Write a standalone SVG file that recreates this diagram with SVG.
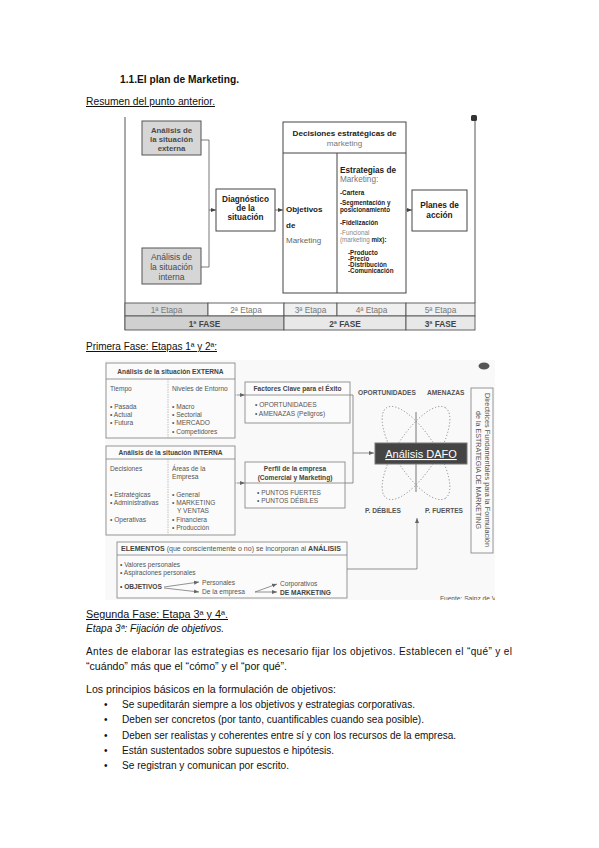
<svg xmlns="http://www.w3.org/2000/svg" width="599" height="848" viewBox="0 0 599 848">
<defs>
<style>
.doc{font-family:"Liberation Sans",Arial,sans-serif;font-size:10px;fill:#111}
.d1{font-family:"Liberation Sans",Arial,sans-serif;font-weight:bold;fill:#222}
.d1g{font-family:"Liberation Sans",Arial,sans-serif;fill:#777}
.d2{font-family:"Liberation Sans",Arial,sans-serif;font-size:6.6px;fill:#555}
.d2b{font-family:"Liberation Sans",Arial,sans-serif;font-size:6.6px;font-weight:bold;fill:#444}
.box{fill:#fff;stroke:#444;stroke-width:1}
.gbox{fill:#d6d6d6;stroke:#555;stroke-width:1}
.b2{fill:#fbfbfb;stroke:#8a8a8a;stroke-width:0.9}
.ln{fill:none;stroke:#555;stroke-width:0.8}
.ln2{fill:none;stroke:#777;stroke-width:0.8}
.dash{fill:none;stroke:#999;stroke-width:0.7;stroke-dasharray:1.5 1.5}
.dot{fill:none;stroke:#8a8a8a;stroke-width:0.9;stroke-dasharray:1.2 2}
</style>
<marker id="ah" viewBox="0 0 6 6" refX="6" refY="3" markerWidth="5" markerHeight="5" orient="auto" markerUnits="userSpaceOnUse"><path d="M0,0.6 L6,3 L0,5.4z" fill="#444"/></marker>
<marker id="ah2" viewBox="0 0 6 6" refX="6" refY="3" markerWidth="5" markerHeight="5" orient="auto" markerUnits="userSpaceOnUse"><path d="M0,0.6 L6,3 L0,5.4z" fill="#666"/></marker>
<clipPath id="clip2"><rect x="105" y="360" width="390" height="240"/></clipPath>
</defs>
<rect width="599" height="848" fill="#fff"/>

<!-- document text -->
<g id="doc-text" class="doc">
<text x="120" y="83" font-weight="bold" textLength="119" lengthAdjust="spacingAndGlyphs">1.1.El plan de Marketing.</text>
<text x="86" y="105" text-decoration="underline" textLength="129" lengthAdjust="spacingAndGlyphs">Resumen del punto anterior.</text>
<text x="86" y="350" text-decoration="underline" textLength="131" lengthAdjust="spacingAndGlyphs">Primera Fase: Etapas 1ª y 2ª:</text>
<text x="86" y="618" text-decoration="underline" textLength="142" lengthAdjust="spacingAndGlyphs">Segunda Fase: Etapa 3ª y 4ª.</text>
<text x="86" y="632" font-style="italic" textLength="138" lengthAdjust="spacingAndGlyphs">Etapa 3ª: Fijación de objetivos.</text>
<text x="86" y="655" textLength="426" lengthAdjust="spacing">Antes de elaborar las estrategias es necesario fijar los objetivos. Establecen el “qué” y el</text>
<text x="86" y="670" textLength="201" lengthAdjust="spacingAndGlyphs">“cuándo” más que el “cómo” y el “por qué”.</text>
<text x="86" y="693" textLength="250" lengthAdjust="spacingAndGlyphs">Los principios básicos en la formulación de objetivos:</text>
<text x="104" y="708">•</text>
<text x="122" y="708" textLength="293" lengthAdjust="spacingAndGlyphs">Se supeditarán siempre a los objetivos y estrategias corporativas.</text>
<text x="104" y="723">•</text>
<text x="122" y="723" textLength="302" lengthAdjust="spacingAndGlyphs">Deben ser concretos (por tanto, cuantificables cuando sea posible).</text>
<text x="104" y="739">•</text>
<text x="122" y="739" textLength="334" lengthAdjust="spacingAndGlyphs">Deben ser realistas y coherentes entre sí y con los recursos de la empresa.</text>
<text x="104" y="754">•</text>
<text x="122" y="754" textLength="212" lengthAdjust="spacingAndGlyphs">Están sustentados sobre supuestos e hipótesis.</text>
<text x="104" y="769">•</text>
<text x="122" y="769" textLength="167" lengthAdjust="spacingAndGlyphs">Se registran y comunican por escrito.</text>
</g>

<!-- ================= Diagram 1 ================= -->
<g id="d1-frame">
<line x1="125" y1="117" x2="125" y2="330" stroke="#555" stroke-width="1"/>
<line x1="475" y1="117" x2="475" y2="303" stroke="#555" stroke-width="1"/>
<rect x="471" y="115" width="6" height="6" rx="1.5" fill="#333"/>
</g>

<g id="d1-connectors">
<path class="ln" d="M201,140 H209 V267 H201"/>
<path class="ln" d="M209,210 H216" marker-end="url(#ah)"/>
<path class="ln" d="M275,210 H283" marker-end="url(#ah)"/>
<path class="ln" d="M406,210 H412" marker-end="url(#ah)"/>
</g>

<g id="n-externa">
<rect class="gbox" x="142" y="121" width="59" height="34"/>
<text class="d1" font-size="7.8" text-anchor="middle" style="fill:#4a4a4a"><tspan x="171.5" y="133">Análisis de</tspan><tspan x="171.5" y="142">la situación</tspan><tspan x="171.5" y="151">externa</tspan></text>
</g>
<g id="n-interna">
<rect class="gbox" x="142" y="248" width="59" height="36"/>
<text class="d1g" font-size="8.5" text-anchor="middle" style="fill:#4a4a4a"><tspan x="171.5" y="260">Análisis de</tspan><tspan x="171.5" y="270">la situación</tspan><tspan x="171.5" y="280">interna</tspan></text>
</g>
<g id="n-diagnostico">
<rect class="box" x="216" y="189" width="59" height="42"/>
<text class="d1" font-size="8.2" text-anchor="middle"><tspan x="245.5" y="202">Diagnóstico</tspan><tspan x="245.5" y="211">de la</tspan><tspan x="245.5" y="220">situación</tspan></text>
</g>
<g id="n-decisiones">
<rect class="box" x="283" y="122" width="123" height="171"/>
<line x1="283" y1="153" x2="406" y2="153" stroke="#444" stroke-width="1"/>
<line x1="337" y1="153" x2="337" y2="293" stroke="#444" stroke-width="1"/>
<text class="d1" font-size="8.1" text-anchor="middle"><tspan x="344.5" y="136">Decisiones estratégicas de</tspan><tspan x="344.5" y="146" font-weight="normal" style="fill:#777">marketing</tspan></text>
<text class="d1" font-size="8"><tspan x="286" y="212">Objetivos</tspan><tspan x="286" y="228">de</tspan><tspan x="286" y="243" font-weight="normal" style="fill:#666">Marketing</tspan></text>
<text class="d1" font-size="8.2"><tspan x="340" y="173">Estrategias de</tspan><tspan x="340" y="182" font-weight="normal" style="fill:#777">Marketing:</tspan></text>
<text class="d1" font-size="6.3"><tspan x="340" y="195">-Cartera</tspan><tspan x="340" y="205">-Segmentación y</tspan><tspan x="340" y="211.5">posicionamiento</tspan><tspan x="340" y="225">-Fidelización</tspan><tspan x="340" y="235" font-weight="normal" style="fill:#888">-Funcional</tspan><tspan x="340" y="242"><tspan font-weight="normal" style="fill:#888">(marketing </tspan>mix):</tspan><tspan x="348" y="255">-Producto</tspan><tspan x="348" y="261">-Precio</tspan><tspan x="348" y="267">-Distribución</tspan><tspan x="348" y="273">-Comunicación</tspan></text>
</g>
<g id="n-planes">
<rect class="box" x="412" y="190" width="55" height="41"/>
<text class="d1" font-size="8.3" text-anchor="middle"><tspan x="439.5" y="208">Planes de</tspan><tspan x="439.5" y="218">acción</tspan></text>
</g>
<g id="n-tabla">
<rect x="125" y="303" width="83" height="13" fill="#d9d9d9" stroke="#555" stroke-width="0.9"/>
<rect x="208" y="303" width="76" height="13" fill="#fff" stroke="#555" stroke-width="0.9"/>
<rect x="284" y="303" width="53" height="13" fill="#f0f0f0" stroke="#555" stroke-width="0.9"/>
<rect x="337" y="303" width="69" height="13" fill="#f0f0f0" stroke="#555" stroke-width="0.9"/>
<rect x="406" y="303" width="69" height="13" fill="#f0f0f0" stroke="#555" stroke-width="0.9"/>
<rect x="125" y="316" width="159" height="14" fill="#d0d0d0" stroke="#555" stroke-width="0.9"/>
<rect x="284" y="316" width="122" height="14" fill="#e8e8e8" stroke="#555" stroke-width="0.9"/>
<rect x="406" y="316" width="69" height="14" fill="#e8e8e8" stroke="#555" stroke-width="0.9"/>
<g class="d1g" font-size="8.3" text-anchor="middle">
<text x="166.5" y="313">1ª Etapa</text><text x="246" y="313">2ª Etapa</text><text x="310.5" y="313">3ª Etapa</text><text x="371.5" y="313">4ª Etapa</text><text x="440.5" y="313">5ª Etapa</text>
</g>
<g class="d1" font-size="8.3" text-anchor="middle" style="fill:#444">
<text x="204.5" y="327">1ª FASE</text><text x="345" y="327">2ª FASE</text><text x="440.5" y="327">3ª FASE</text>
</g>
</g>

<!-- ================= Diagram 2 ================= -->
<g clip-path="url(#clip2)">
<rect x="105" y="360" width="390" height="240" fill="#f9f9f9"/>
<ellipse cx="484" cy="366" rx="5.5" ry="3.5" fill="#555"/>
<text class="d2" x="440" y="601" font-size="5">Fuente: Sainz de Vicuña</text>
</g>

<g id="d2-connectors">
<path class="dash" d="M106,395 H237"/>
<path class="ln2" d="M237,395 H245" marker-end="url(#ah2)"/>
<path class="dash" d="M106,483 H237"/>
<path class="ln2" d="M237,483 H245" marker-end="url(#ah2)"/>
<path class="ln2" d="M350,395 H353 V483 H345"/>
<path class="ln2" d="M353,453 H374" marker-end="url(#ah2)"/>
<path class="ln2" d="M347,569 H417 V518" marker-end="url(#ah2)"/>
<line x1="416" y1="412" x2="416" y2="492" stroke="#666" stroke-width="0.9"/>
<ellipse class="dot" cx="416" cy="453" rx="54" ry="20" transform="rotate(-57 416 453)"/>
<ellipse class="dot" cx="416" cy="453" rx="54" ry="20" transform="rotate(57 416 453)"/>
</g>

<g id="n-externa2">
<rect class="b2" x="106" y="363" width="129" height="75"/>
<line x1="106" y1="379" x2="235" y2="379" stroke="#8a8a8a" stroke-width="0.9"/>
<line x1="168" y1="379" x2="168" y2="438" stroke="#aaa" stroke-width="0.7" stroke-dasharray="1.5 1"/>
<text class="d2b" x="170.5" y="374" text-anchor="middle">Análisis de la situación EXTERNA</text>
<text class="d2"><tspan x="110" y="391">Tiempo</tspan><tspan x="172" y="391">Niveles de Entorno</tspan></text>
<text class="d2"><tspan x="110" y="409">• Pasada</tspan><tspan x="110" y="417">• Actual</tspan><tspan x="110" y="425">• Futura</tspan></text>
<text class="d2"><tspan x="172" y="409">• Macro</tspan><tspan x="172" y="417">• Sectorial</tspan><tspan x="172" y="425">• MERCADO</tspan><tspan x="172" y="434">• Competidores</tspan></text>
</g>

<g id="n-interna2">
<rect class="b2" x="106" y="446" width="129" height="89"/>
<line x1="106" y1="459" x2="235" y2="459" stroke="#8a8a8a" stroke-width="0.9"/>
<line x1="168" y1="459" x2="168" y2="535" stroke="#aaa" stroke-width="0.7" stroke-dasharray="1.5 1"/>
<text class="d2b" x="170.5" y="455" text-anchor="middle">Análisis de la situación INTERNA</text>
<text class="d2"><tspan x="110" y="471">Decisiones</tspan><tspan x="172" y="471">Áreas de la</tspan><tspan x="172" y="479">Empresa</tspan></text>
<text class="d2"><tspan x="110" y="497">• Estratégicas</tspan><tspan x="110" y="505">• Administrativas</tspan><tspan x="110" y="522">• Operativas</tspan></text>
<text class="d2"><tspan x="172" y="497">• General</tspan><tspan x="172" y="505">• MARKETING</tspan><tspan x="177" y="513">Y VENTAS</tspan><tspan x="172" y="522">• Financiera</tspan><tspan x="172" y="530">• Producción</tspan></text>
</g>

<g id="n-factores">
<rect class="b2" x="245" y="382" width="105" height="41"/>
<line x1="245" y1="395" x2="350" y2="395" stroke="#8a8a8a" stroke-width="0.9"/>
<text class="d2b" x="297.5" y="391" text-anchor="middle">Factores Clave para el Éxito</text>
<text class="d2"><tspan x="255" y="407">• OPORTUNIDADES</tspan><tspan x="255" y="416">• AMENAZAS (Peligros)</tspan></text>
</g>

<g id="n-perfil">
<rect class="b2" x="245" y="462" width="100" height="46"/>
<line x1="245" y1="483" x2="345" y2="483" stroke="#8a8a8a" stroke-width="0.9"/>
<text class="d2b" text-anchor="middle"><tspan x="295" y="471">Perfil de la empresa</tspan><tspan x="295" y="480">(Comercial y Marketing)</tspan></text>
<text class="d2"><tspan x="257" y="495">• PUNTOS FUERTES</tspan><tspan x="257" y="503">• PUNTOS DÉBILES</tspan></text>
</g>

<g id="n-dafo">
<rect x="375" y="443" width="92" height="21" fill="#444" stroke="#777" stroke-width="1"/>
<text x="421" y="458" text-anchor="middle" font-family="'Liberation Sans',Arial,sans-serif" font-size="11" fill="#fff" text-decoration="underline">Análisis DAFO</text>
<text class="d2b" font-size="6.2" style="fill:#555"><tspan x="358" y="395">OPORTUNIDADES</tspan><tspan x="427" y="395">AMENAZAS</tspan><tspan x="365" y="513">P. DÉBILES</tspan><tspan x="425" y="513">P. FUERTES</tspan></text>
</g>

<g id="n-directrices">
<rect class="b2" x="471" y="388" width="22" height="165"/>
<text class="d2" font-size="7" text-anchor="middle" transform="rotate(90 484.5 470)" x="484.5" y="470" textLength="154" lengthAdjust="spacingAndGlyphs">Directrices Fundamentales para la Formulación</text>
<text class="d2" font-size="7" text-anchor="middle" transform="rotate(90 476 470)" x="476" y="470" textLength="118" lengthAdjust="spacingAndGlyphs">de la ESTRATEGIA DE MARKETING</text>
</g>

<g id="n-elementos">
<rect class="b2" x="117" y="542" width="230" height="56"/>
<line x1="117" y1="555" x2="347" y2="555" stroke="#8a8a8a" stroke-width="0.9"/>
<text class="d2" x="121" y="551" textLength="220" lengthAdjust="spacingAndGlyphs"><tspan font-weight="bold" style="fill:#444">ELEMENTOS</tspan> (que conscientemente o no) se incorporan al <tspan font-weight="bold" style="fill:#444">ANÁLISIS</tspan></text>
<text class="d2"><tspan x="120" y="567">• Valores personales</tspan><tspan x="120" y="575">• Aspiraciones personales</tspan></text>
<text class="d2b" x="120" y="589">• OBJETIVOS</text>
<path class="ln2" d="M164,587 L199,582" marker-end="url(#ah2)"/>
<path class="ln2" d="M164,588 L199,592" marker-end="url(#ah2)"/>
<text class="d2"><tspan x="202" y="585">Personales</tspan><tspan x="202" y="594">De la empresa</tspan></text>
<path class="ln2" d="M255,592 L277,584" marker-end="url(#ah2)"/>
<path class="ln2" d="M255,592 L277,592" marker-end="url(#ah2)"/>
<text class="d2" x="280" y="586">Corporativos</text>
<text class="d2b" x="280" y="595">DE MARKETING</text>
</g>
</svg>
